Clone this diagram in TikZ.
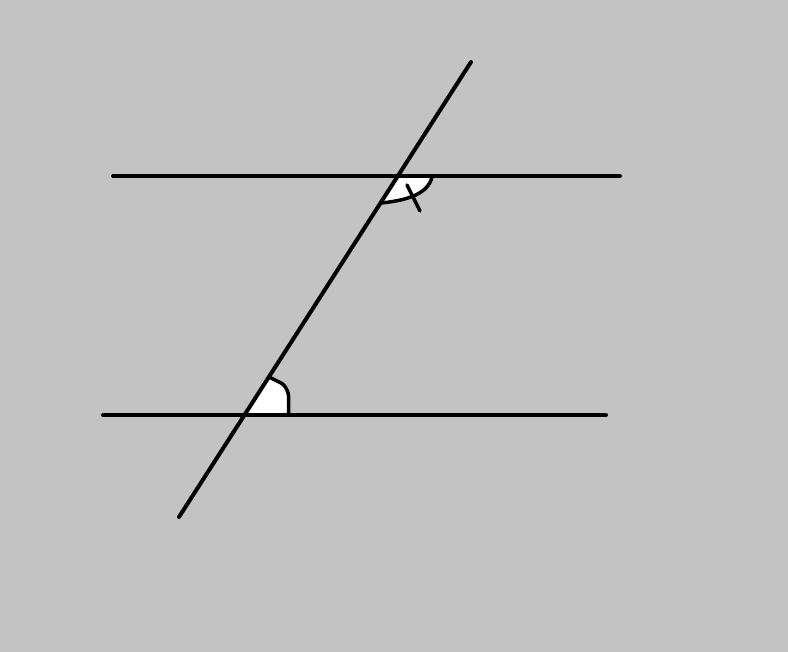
\documentclass[tikz,border=0pt]{standalone}
\usetikzlibrary{calc}
\definecolor{bg}{RGB}{195,195,195}
\begin{document}
\begin{tikzpicture}[x=1pt,y=-1pt,line cap=round,line join=round,
  stroke/.style={draw=black,line width=4pt},
  anglemark/.style={draw=black,line width=3.5pt}]
\fill[bg] (0,0) rectangle (788,652);
\useasboundingbox (0,0) rectangle (788,652);
% coordinates
\coordinate (T1) at (113,176);
\coordinate (T2) at (620,176);
\coordinate (B1) at (103,415);
\coordinate (B2) at (606,415);
\coordinate (S1) at (471,62);
\coordinate (S2) at (179,517);
\coordinate (P) at (397.8,176);
\coordinate (Q) at (244.5,415);
\coordinate (A1) at (432,177);
\coordinate (A2) at (381.5,203);
\coordinate (K1) at (407,185);
\coordinate (K2) at (420,211);
% top angle fill
\fill[white] (P) -- (A1) .. controls (428,193) and (410,200) .. (A2) -- cycle;
% bottom angle fill
\fill[white] (Q) -- (288.5,415) -- (288.5,393) [rounded corners=3pt] -- (284,384.5) -- (269,377) -- cycle;
% lines
\draw[stroke] (T1) -- (T2);
\draw[stroke] (B1) -- (B2);
\draw[stroke] (S1) -- (S2);
% top arc and tick
\draw[anglemark] (A1) .. controls (428,193) and (410,200) .. (A2);
\draw[anglemark] (K1) -- (K2);
% bottom arc
\draw[anglemark,rounded corners=3pt] (288.5,414) -- (288.5,393) -- (284,384.5) -- (269,377);
\end{tikzpicture}
\end{document}
